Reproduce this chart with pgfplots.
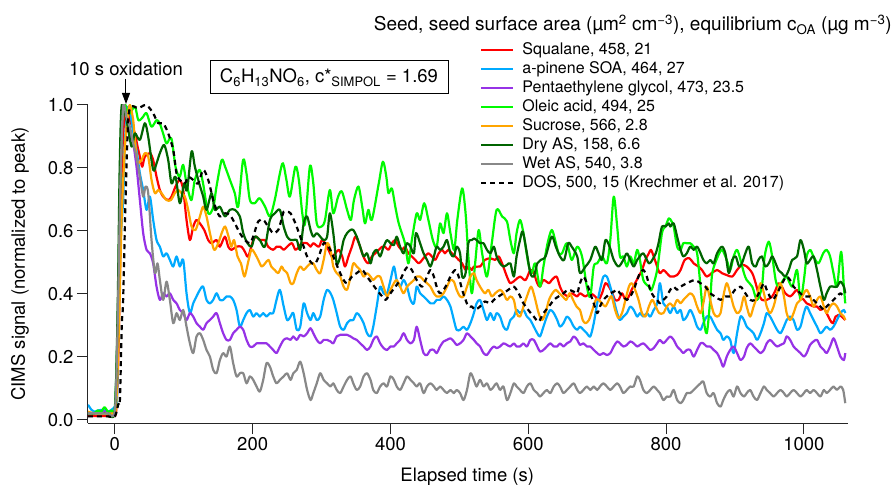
\documentclass[border=0pt]{standalone}
\usepackage{fontspec}
\setmainfont{TeX Gyre Heros}
\usepackage{pgfplots}
\pgfplotsset{compat=1.18}
\usetikzlibrary{arrows.meta}
\definecolor{cRed}{RGB}{255,0,0}
\definecolor{cBlue}{RGB}{0,170,255}
\definecolor{cPurple}{RGB}{150,50,230}
\definecolor{cLime}{RGB}{0,250,0}
\definecolor{cOrange}{RGB}{255,165,0}
\definecolor{cDark}{RGB}{0,100,0}
\definecolor{cGray}{RGB}{136,136,136}
\newcommand{\fs}[1]{\fontsize{#1}{#1}\selectfont}
\begin{document}
\begin{tikzpicture}
\begin{axis}[
  at={(0pt,0pt)}, anchor=south west,
  scale only axis, width=760pt, height=318pt,
  xmin=-39, xmax=1064, ymin=-0.01, ymax=1.0,
  axis x line*=bottom, axis y line*=left,
  axis line style={line width=1pt, black!85},
  tick align=outside, major tick length=11pt,
  tick style={line width=1pt, black!85},
  xtick={0,200,400,600,800,1000}, xticklabels={0,200,400,600,800,1000},
  ytick={0,0.2,0.4,0.6,0.8,1.0}, yticklabels={0.0,0.2,0.4,0.6,0.8,1.0},
  ticklabel style={font=\fs{18.5}},
  xlabel={Elapsed time (s)}, ylabel={CIMS signal (normalized to peak)},
  label style={font=\fs{18.5}},
  xlabel style={at={(axis description cs:0.499,-0.1846)}, anchor=base},
  ylabel style={at={(axis description cs:-0.0895,0.5)}, anchor=center},
  legend style={at={(axis description cs:0.5158,1.1965)}, anchor=north west,
    draw=none, fill=none, font=\fs{16}, inner sep=0pt, row sep=4pt,
    cells={anchor=west},
    nodes={inner sep=0pt, text height=11.5pt, text depth=3.5pt},
    /tikz/every odd column/.append style={column sep=8pt}},
  legend image code/.code={\draw[#1] (0pt,0pt) -- (32pt,0pt);},
  every axis plot/.append style={line width=2.2pt, line join=round, smooth, tension=0.5},
]
% Squalane
\addplot[cRed] coordinates {
(-39,0.012) (-30,0.012) (-20,0.012) (-10,0.012) (-2,0.012) (2,0.03) (5,0.2) (8,0.55) (11,0.85) (14,0.96) (17,0.995)
(21.8,0.952) (29,0.91) (32.9,0.868) (36.3,0.836) (39.7,0.804) (43.5,0.836) (50.8,0.847) (55.6,0.825) (60.5,0.772)
(65.3,0.73) (70.1,0.709) (77.4,0.698) (82.2,0.709) (88,0.741) (94.3,0.762) (99.2,0.73) (104,0.635) (108.9,0.571)
(113.7,0.614) (118.5,0.635) (123.4,0.624) (129.7,0.603) (135.5,0.571) (140.3,0.561) (147.6,0.571) (152.4,0.55)
(159.7,0.582) (164.5,0.55) (169.3,0.54) (176.6,0.55) (183.8,0.55) (188.7,0.534) (193.5,0.519) (200.8,0.571)
(205.6,0.582) (210.4,0.571) (217.7,0.571) (222.5,0.55) (229.8,0.54) (234.6,0.55) (240,0.55)
(245,0.540) (250,0.550) (257,0.561) (262,0.540) (267,0.550) (271,0.561) (279,0.561) (284,0.550) (288,0.561)
(296,0.550) (300.5,0.571) (305,0.561) (310,0.540) (315,0.519) (320,0.529) (325,0.540) (330,0.519) (334,0.487)
(339,0.519) (344,0.550) (349,0.582) (354,0.561) (359,0.529) (363,0.508) (368,0.497) (373,0.519) (378,0.529)
(383,0.540) (388,0.550) (392,0.550) (397,0.540) (402,0.561) (407,0.571) (412,0.550) (417,0.540) (421,0.550)
(426,0.529) (431,0.519) (436,0.508) (441,0.497) (446,0.508) (450,0.519) (455,0.529) (460,0.519) (465,0.508)
(470,0.529) (475,0.540) (479,0.529) (484,0.540) (489,0.529) (494,0.519) (499,0.508) (504,0.497) (509,0.476)
(513,0.487) (518,0.476)
(521,0.487) (530,0.487) (537,0.508) (545,0.513) (552,0.508) (557,0.519) (562,0.497) (569,0.455) (574,0.434)
(581,0.444) (588,0.455) (596,0.444) (603,0.476) (608,0.466) (613,0.434) (617,0.423) (622,0.444) (630,0.434)
(634,0.444) (641,0.455) (646,0.423) (651,0.402) (658,0.392) (663,0.402) (671,0.392) (675,0.402) (683,0.392)
(690,0.402) (697,0.392) (702,0.381) (707,0.402) (712,0.434) (717,0.423) (722,0.402) (726,0.381) (731,0.381)
(736,0.402) (741,0.381) (746,0.392) (750,0.413) (755,0.434) (760,0.455) (765,0.476) (770,0.508) (775,0.529)
(778,0.540) (782,0.519) (787,0.487) (791,0.466)
(796,0.476) (801,0.466) (806,0.455) (811,0.455) (816,0.460) (821,0.476) (827,0.508) (834,0.513) (840,0.497)
(847,0.487) (852,0.476) (859,0.455) (866,0.466) (874,0.476) (881,0.466) (888,0.460) (896,0.455) (903,0.476)
(910,0.492) (917,0.487) (925,0.466) (930,0.434) (934,0.402) (939,0.381) (946,0.381) (954,0.392) (959,0.413)
(963,0.434) (968,0.423) (973,0.402) (980,0.392) (985,0.402) (990,0.413) (995,0.392) (1000,0.381) (1004,0.370)
(1009,0.365) (1014,0.360) (1019,0.360) (1024,0.349) (1029,0.354) (1033,0.339) (1038,0.317) (1042,0.307)
(1046,0.328) (1050,0.333) (1055,0.328) (1060,0.317)
};
\addlegendentry{Squalane, 458, 21}
% a-pinene SOA
\addplot[cBlue] coordinates {
(-39,0.048) (-34,0.032) (-29,0.026) (-24,0.03) (-15,0.032) (-10,0.026) (-5,0.032) (0,0.042) (3,0.06) (5,0.275)
(8,0.55) (12,0.70) (15,0.9) (20,0.995)
(26.6,0.915) (31.4,0.857) (36.3,0.783) (41.1,0.730) (46,0.667) (50.8,0.709) (55.6,0.635) (60.5,0.571) (65.3,0.550)
(70.1,0.519) (75,0.529) (79.8,0.508) (84.7,0.487) (89.5,0.519) (94.3,0.487) (99.2,0.508) (104,0.402) (108.9,0.339)
(113.7,0.370) (118.5,0.392) (123.4,0.413) (128.2,0.423) (133,0.381) (137.9,0.370) (142.7,0.381) (147.6,0.402)
(152.4,0.381) (157.2,0.381) (162.1,0.392) (166.9,0.392) (171.7,0.381) (176.6,0.349) (181.4,0.296) (186.3,0.317)
(191.1,0.339) (195.9,0.349) (200.8,0.328) (205.6,0.339) (210.4,0.328) (215.3,0.339) (220.1,0.328) (225,0.339)
(229.8,0.339) (234.6,0.381) (239.5,0.413)
(245,0.360) (250,0.317) (255,0.328) (259,0.339) (264,0.286) (269,0.296) (274,0.370) (279,0.339) (284,0.317)
(288,0.339) (293,0.317) (298,0.328) (303,0.381) (308,0.413) (313,0.402) (317,0.381) (322,0.339) (327,0.296)
(332,0.286) (337,0.307) (342,0.317) (346,0.317) (351,0.339) (356,0.328) (361,0.307) (366,0.275) (371,0.265)
(375,0.296) (380,0.360) (385,0.423) (390,0.402) (395,0.402) (400,0.444) (405,0.487) (409,0.444) (414,0.423)
(419,0.444) (424,0.423) (429,0.381) (434,0.370) (438,0.423) (443,0.402) (448,0.392) (453,0.381) (458,0.370)
(463,0.370) (467,0.381) (472,0.381) (477,0.392) (482,0.381) (487,0.360) (492,0.317) (496,0.286) (501,0.286)
(506,0.296) (511,0.286) (516,0.307)
(521,0.339) (525,0.370) (530,0.381) (535,0.349) (540,0.317) (545,0.339) (550,0.317) (554,0.339) (559,0.328)
(564,0.296) (569,0.286) (574,0.317) (579,0.328) (583,0.349) (588,0.339) (593,0.349) (598,0.328) (603,0.317)
(608,0.296) (613,0.275) (617,0.265) (622,0.296) (627,0.328) (632,0.349) (637,0.339) (642,0.317) (646,0.296)
(651,0.307) (656,0.328) (661,0.317) (666,0.296) (671,0.286) (675,0.296) (680,0.286) (685,0.275) (690,0.265)
(695,0.307) (700,0.370) (704,0.413) (709,0.455) (714,0.455) (719,0.423) (724,0.381) (729,0.339) (733,0.317)
(738,0.328) (743,0.339) (748,0.360) (753,0.349) (758,0.328) (762,0.339) (767,0.328) (772,0.339) (777,0.328)
(782,0.349) (787,0.370) (791,0.434)
(796,0.370) (801,0.360) (806,0.339) (811,0.360) (816,0.339) (821,0.349) (825,0.317) (830,0.328) (835,0.349)
(840,0.328) (845,0.296) (850,0.286) (854,0.307) (859,0.328) (864,0.328) (869,0.307) (874,0.286) (879,0.275)
(883,0.254) (888,0.265) (893,0.254) (898,0.212) (903,0.275) (908,0.328) (913,0.317) (917,0.296) (922,0.286)
(927,0.275) (932,0.254) (937,0.275) (942,0.307) (946,0.339) (951,0.328) (956,0.307) (961,0.286) (966,0.275)
(971,0.296) (975,0.317) (980,0.328) (985,0.317) (990,0.286) (995,0.296) (1000,0.339) (1004,0.360) (1009,0.339)
(1014,0.317) (1019,0.296) (1024,0.275) (1029,0.286) (1033,0.296) (1038,0.286) (1043,0.296) (1048,0.317)
(1053,0.339) (1058,0.349) (1060,0.339)
};
\addlegendentry{a-pinene SOA, 464, 27}
% Pentaethylene glycol
\addplot[cPurple] coordinates {
(-39,0.021) (-30,0.021) (-20,0.026) (-10,0.026) (-5,0.021) (0,0.03) (4,0.3) (8,0.75) (12,1.0)
(16.9,0.952) (21.8,0.910) (26.6,0.878) (31.4,0.804) (36.3,0.698) (41.1,0.593) (46,0.540) (50.8,0.529) (55.6,0.497)
(60.5,0.423) (65.3,0.381) (70.1,0.402) (75,0.392) (79.8,0.402) (84.7,0.381) (89.5,0.370) (94.3,0.349) (99.2,0.339)
(104,0.317) (108.9,0.339) (113.7,0.328) (118.5,0.307) (123.4,0.296) (128.2,0.286) (133,0.307) (137.9,0.317)
(142.7,0.328) (147.6,0.339) (152.4,0.307) (157.2,0.275) (162.1,0.254) (166.9,0.254) (171.7,0.275) (176.6,0.286)
(181.4,0.296) (186.3,0.286) (191.1,0.254) (195.9,0.233) (200.8,0.233) (205.6,0.243) (210.4,0.243) (215.3,0.243)
(220.1,0.243) (225,0.233) (229.8,0.222) (234.6,0.212) (239.5,0.233)
(245,0.254) (250,0.259) (255,0.254) (259,0.265) (264,0.254) (269,0.270) (274,0.265) (279,0.275) (284,0.291)
(288,0.275) (293,0.254) (298,0.243) (303,0.254) (308,0.254) (313,0.249) (317,0.243) (322,0.265) (327,0.270)
(332,0.270) (337,0.270) (342,0.265) (346,0.259) (351,0.254) (356,0.243) (361,0.233) (366,0.222) (371,0.233)
(375,0.254) (380,0.265) (385,0.243) (390,0.228) (395,0.222) (400,0.233) (405,0.233) (409,0.243) (414,0.254)
(419,0.275) (424,0.254) (429,0.243) (434,0.254) (438,0.296) (443,0.254) (448,0.212) (453,0.206) (458,0.222)
(463,0.222) (467,0.212) (472,0.233) (477,0.249) (482,0.254) (487,0.259) (492,0.249) (496,0.238) (501,0.243)
(506,0.254) (511,0.275) (516,0.265)
(521,0.254) (525,0.243) (530,0.233) (535,0.212) (540,0.206) (545,0.222) (550,0.233) (554,0.228) (559,0.233)
(564,0.243) (569,0.238) (574,0.233) (579,0.243) (583,0.233) (588,0.233) (593,0.243) (598,0.233) (603,0.254)
(608,0.254) (613,0.233) (617,0.217) (622,0.222) (627,0.233) (632,0.243) (637,0.233) (642,0.233) (646,0.243)
(651,0.233) (656,0.243) (661,0.249) (666,0.265) (671,0.254) (675,0.238) (680,0.243) (685,0.233) (690,0.233)
(695,0.222) (700,0.212) (704,0.206) (709,0.212) (714,0.206) (719,0.212) (724,0.233) (729,0.249) (733,0.243)
(738,0.233) (743,0.238) (748,0.249) (753,0.243) (758,0.233) (762,0.238) (767,0.243) (772,0.233) (777,0.222)
(782,0.228) (787,0.243) (791,0.254)
(796,0.243) (801,0.254) (806,0.265) (811,0.254) (816,0.233) (821,0.222) (825,0.212) (830,0.222) (835,0.222)
(840,0.201) (845,0.222) (850,0.243) (854,0.243) (859,0.233) (864,0.233) (869,0.222) (874,0.212) (879,0.190)
(883,0.169) (888,0.201) (893,0.222) (898,0.233) (903,0.212) (908,0.190) (913,0.201) (917,0.228) (922,0.243)
(927,0.233) (932,0.222) (937,0.212) (942,0.222) (946,0.243) (951,0.254) (956,0.243) (961,0.233) (966,0.238)
(971,0.243) (975,0.265) (980,0.254) (985,0.233) (990,0.222) (995,0.212) (1000,0.201) (1004,0.212) (1009,0.238)
(1014,0.249) (1019,0.254) (1024,0.233) (1029,0.222) (1033,0.212) (1038,0.233) (1043,0.259) (1048,0.233)
(1053,0.201) (1058,0.190) (1060,0.212)
};
\addlegendentry{Pentaethylene glycol, 473, 23.5}
% Oleic acid
\addplot[cLime] coordinates {
(-39,0.021) (-30,0.021) (-25,0.03) (-20,0.026) (-15,0.04) (-10,0.026) (-5,0.03) (0,0.04) (4,0.3) (8,0.75) (12,1.0)
(20,0.97) (29,0.995) (34,0.952) (40,0.96) (46,0.974) (53,0.931) (60.5,0.952) (65,0.942) (70,0.91) (75,0.878)
(82,0.894) (88,0.804) (94,0.772) (99,0.81) (104,0.751) (111,0.698) (116,0.762) (123,0.794) (128,0.751)
(135.5,0.656) (143,0.677) (147.5,0.741) (155,0.825) (160,0.804) (167,0.762) (174,0.72) (179,0.677) (186,0.825)
(191,0.783) (196,0.698) (203,0.688) (210,0.704) (218,0.677) (225,0.646) (232,0.698) (239.5,0.783) (244,0.815)
(249,0.762) (254,0.709) (262,0.804) (267,0.762) (272,0.656) (276,0.624) (283,0.804) (288,0.751) (293,0.624)
(300,0.614) (305,0.635) (312,0.730) (317,0.656) (324,0.709) (329.5,0.725) (337,0.667) (342.5,0.635) (347,0.698)
(353.5,0.741) (359,0.677) (363,0.624) (368,0.667) (373,0.635) (383,0.751) (389,0.820) (394,0.772) (397,0.720)
(402,0.735) (407,0.677) (412,0.624) (421,0.561) (426,0.497) (431,0.571) (438,0.656) (443,0.635) (449,0.688)
(455,0.635) (461.5,0.571) (467,0.550) (472,0.624) (477,0.593) (482,0.656) (487,0.593) (492.5,0.540) (497,0.635)
(504,0.735) (509,0.656) (513,0.519) (518,0.402) (523,0.500)
(528,0.603) (533,0.529) (540,0.455) (547,0.561) (554,0.667) (562,0.646) (569,0.630) (574,0.571) (579,0.529)
(583,0.593) (588,0.635) (593,0.593) (600,0.497) (605,0.466) (610,0.497) (617,0.423) (622,0.487) (628,0.561)
(634,0.603) (639,0.571) (644,0.529) (649,0.529) (656,0.561) (663,0.508) (671,0.550) (678,0.519) (685,0.423)
(690,0.392) (695,0.487) (700,0.497) (707,0.519) (714,0.497) (719,0.571) (724,0.709) (729,0.614) (733,0.519)
(738,0.519) (743,0.487) (748,0.519) (753,0.497) (758,0.540) (762,0.508) (767,0.444) (775,0.423) (779,0.413)
(787,0.476) (794,0.593) (799,0.614) (804,0.640) (808,0.630) (811,0.614) (816,0.550) (821,0.540) (825,0.561)
(830,0.561) (835,0.561) (840,0.550) (845,0.529) (850,0.423) (854,0.328) (859,0.275) (864,0.381) (867,0.466)
(874,0.513) (881,0.540) (888,0.508) (893,0.476) (898,0.519) (903,0.540) (908,0.508) (913,0.466) (917,0.444)
(925,0.423) (932,0.381) (939,0.423) (943,0.519) (949,0.566) (954,0.519) (959,0.444) (963,0.423) (970,0.444)
(975,0.455) (983,0.423) (990,0.476) (995,0.381) (1000,0.444) (1004,0.519) (1009,0.540) (1014,0.519)
(1021,0.497) (1028,0.529) (1033,0.540) (1038,0.519) (1043,0.466) (1048,0.423) (1054,0.534) (1058,0.423)
(1060,0.370)
};
\addlegendentry{Oleic acid, 494, 25}
% Sucrose
\addplot[cOrange] coordinates {
(-39,0.026) (-30,0.021) (-20,0.021) (-10,0.021) (-2,0.021) (2,0.05) (6,0.3) (10,0.65) (15,0.88) (19,0.97) (22,1.0)
(26.6,0.952) (29,0.889) (32,0.83) (33.9,0.815) (38.7,0.825) (43.5,0.847) (48.4,0.836) (53.2,0.762) (58.1,0.720)
(62.9,0.730) (67.7,0.720) (75,0.698) (81.3,0.698) (87,0.720) (92,0.730) (96.8,0.720) (101.6,0.709) (106.4,0.667)
(111.3,0.614) (117.1,0.603) (123.4,0.646) (128.2,0.677) (133,0.646) (138,0.593) (144,0.540) (150,0.561)
(155,0.593) (160,0.614) (165,0.582) (169,0.550) (173,0.571) (178,0.519) (183,0.497) (188,0.455) (193,0.497)
(198,0.540) (203,0.529) (208,0.508) (213,0.487) (218,0.497) (223,0.508) (227,0.487) (232,0.476) (237,0.466)
(242,0.487)
(245,0.476) (250,0.466) (255,0.434) (259,0.434) (264,0.466) (269,0.487) (274,0.476) (279,0.487) (284,0.497)
(288,0.497) (293,0.476) (298,0.466) (303,0.508) (308,0.561) (313,0.540) (317,0.487) (322,0.466) (327,0.455)
(332,0.423) (337,0.413) (342,0.455) (346,0.497) (351,0.487) (356,0.476) (361,0.455) (366,0.466) (371,0.455)
(375,0.444) (380,0.455) (385,0.455) (390,0.423) (395,0.392) (400,0.413) (405,0.434) (409,0.444) (414,0.423)
(419,0.402) (424,0.423) (429,0.434) (434,0.444) (438,0.455) (443,0.455) (448,0.444) (453,0.434) (458,0.423)
(463,0.402) (467,0.392) (472,0.392) (477,0.402) (482,0.423) (487,0.444) (492,0.439) (496,0.413) (501,0.392)
(506,0.392) (511,0.423) (516,0.455)
(521,0.466) (525,0.444) (530,0.423) (537,0.402) (542,0.413) (547,0.392) (552,0.402) (559,0.413) (564,0.402)
(569,0.381) (574,0.392) (579,0.381) (583,0.339) (588,0.328) (593,0.360) (598,0.392) (604,0.423) (609,0.392)
(615,0.339) (620,0.317) (625,0.339) (630,0.381) (635,0.402) (640,0.413) (645,0.402) (650,0.392) (655,0.381)
(660,0.402) (665,0.381) (670,0.360) (675,0.349) (679,0.317) (683,0.307) (688,0.317) (693,0.349) (698,0.381)
(702,0.381) (707,0.370) (712,0.360) (717,0.381) (721,0.392) (726,0.349) (731,0.323) (736,0.339) (741,0.381)
(746,0.423) (750,0.434) (755,0.413) (760,0.381) (765,0.339) (770,0.328) (775,0.360) (780,0.381) (785,0.360)
(790,0.339)
(796,0.339) (801,0.360) (806,0.370) (811,0.360) (816,0.381) (821,0.370) (825,0.381) (830,0.392) (835,0.402)
(840,0.392) (845,0.360) (850,0.339) (854,0.370) (859,0.423) (864,0.381) (869,0.339) (874,0.328) (879,0.339)
(883,0.392) (888,0.434) (893,0.402) (898,0.360) (903,0.339) (908,0.349) (913,0.392) (917,0.360) (922,0.328)
(927,0.360) (932,0.392) (937,0.434) (942,0.402) (946,0.360) (951,0.339) (956,0.360) (961,0.402) (966,0.434)
(971,0.392) (975,0.339) (980,0.317) (985,0.339) (990,0.370) (995,0.381) (1000,0.402) (1004,0.413) (1009,0.392)
(1014,0.360) (1019,0.381) (1024,0.392) (1029,0.360) (1033,0.339) (1038,0.360) (1043,0.370) (1048,0.360)
(1053,0.339) (1058,0.328) (1060,0.317)
};
\addlegendentry{Sucrose, 566, 2.8}
% Dry AS
\addplot[cDark] coordinates {
(-39,0.021) (-30,0.021) (-20,0.021) (-10,0.021) (0,0.03) (4,0.35) (7,0.8) (10,1.0)
(16.9,0.952) (24.2,0.868) (29,0.910) (36.3,0.889) (43.5,0.942) (48.4,0.899) (55.6,0.794) (60.5,0.815) (65.3,0.847)
(71.6,0.873) (77.4,0.825) (82.2,0.751) (88,0.772) (94.3,0.688) (100.6,0.751) (104.8,0.730) (111.3,0.852)
(116.1,0.804) (122.4,0.751) (128.2,0.709) (133,0.667) (140.3,0.720) (145.1,0.667) (152.4,0.677) (159.7,0.646)
(166.9,0.667) (174.2,0.667) (181.4,0.646) (186.3,0.593) (192.5,0.561) (198.4,0.550) (203.2,0.582) (210.4,0.571)
(217.7,0.550) (225,0.635) (232.2,0.656) (239.5,0.667)
(245,0.614) (250,0.582) (255,0.571) (259,0.571) (264,0.571) (269,0.540) (274,0.624) (279,0.646) (284,0.603)
(288,0.582) (293,0.593) (298,0.582) (303,0.571) (308,0.582) (312,0.656) (317,0.593) (322,0.497) (327,0.519)
(332,0.571) (337,0.593) (342,0.603) (346,0.603) (351,0.582) (356,0.550) (361,0.519) (366,0.529) (371,0.497)
(375,0.529) (380,0.540) (385,0.519) (390,0.550) (395,0.571) (400,0.561) (405,0.555) (409,0.582) (414,0.550)
(419,0.529) (424,0.561) (429,0.550) (434,0.529) (437,0.593) (443,0.561) (448,0.529) (453,0.508) (458,0.487)
(463,0.519) (467,0.550) (472,0.540) (477,0.550) (482,0.571) (487,0.529) (492,0.519) (496,0.550) (501,0.529)
(504,0.455) (509,0.466) (513,0.561) (518,0.571) (521,0.576) (525,0.571)
(530,0.561) (535,0.561) (540,0.540) (545,0.529) (550,0.550) (554,0.519) (559,0.497) (564,0.487) (569,0.492)
(574,0.497) (579,0.455) (583,0.519) (588,0.571) (592,0.598) (598,0.529) (603,0.466) (608,0.455) (613,0.497)
(618,0.508) (625,0.519) (634,0.582) (640,0.550) (646,0.519) (652,0.508) (658,0.561) (663,0.550) (671,0.519)
(675,0.466) (683,0.487) (690,0.508) (697,0.550) (702,0.529) (707,0.508) (712,0.571) (718,0.550) (724,0.508)
(731,0.487) (738,0.508) (743,0.529) (748,0.508) (753,0.487) (758,0.508) (762,0.519) (767,0.529) (775,0.497)
(780,0.508) (785,0.529) (789,0.561) (794,0.614) (799,0.614) (804,0.624)
(806,0.614) (811,0.624) (816,0.582) (821,0.540) (825,0.519) (830,0.529) (835,0.550) (840,0.540) (845,0.550)
(850,0.529) (854,0.508) (859,0.497) (864,0.508) (869,0.497) (874,0.529) (881,0.550) (886,0.529) (891,0.466)
(896,0.508) (901,0.519) (906,0.487) (910,0.497) (915,0.529) (920,0.550) (925,0.497) (930,0.487) (934,0.508)
(939,0.519) (944,0.487) (949,0.497) (954,0.519) (959,0.497) (963,0.476) (968,0.466) (973,0.455) (978,0.476)
(983,0.508) (990,0.519) (995,0.571) (1000,0.540) (1004,0.497) (1009,0.508) (1014,0.519) (1019,0.476)
(1024,0.423) (1029,0.381) (1033,0.402) (1038,0.423) (1043,0.423) (1048,0.423) (1053,0.439) (1058,0.423)
(1060,0.402)
};
\addlegendentry{Dry AS, 158, 6.6}
% Wet AS
\addplot[cGray] coordinates {
(-39,0.021) (-30,0.021) (-20,0.021) (-10,0.021) (0,0.03) (4,0.3) (8,0.75) (12,0.995)
(16.9,0.96) (21.8,0.931) (26.6,0.878) (31.4,0.836) (36.3,0.772) (41.1,0.709) (44.5,0.741) (48.4,0.720) (53.2,0.571)
(58.1,0.466) (61.9,0.497) (65.3,0.444) (70.1,0.381) (75,0.439) (79.8,0.381) (84.7,0.307) (89.5,0.339) (94.3,0.317)
(99.2,0.349) (104,0.296) (108.9,0.243) (113.7,0.212) (118.5,0.265) (123.4,0.275) (128.2,0.254) (133,0.222)
(137.9,0.201) (142.7,0.159) (147.6,0.148) (152.4,0.190) (157.2,0.212) (162.1,0.201) (166.9,0.233) (171.7,0.180)
(176.6,0.138) (181.4,0.148) (186.3,0.148) (191.1,0.116) (195.9,0.138) (200.8,0.127) (205.6,0.106) (210.4,0.090)
(215.3,0.127) (220.1,0.180) (225,0.169) (229.8,0.138) (234.6,0.116) (239.5,0.127)
(245,0.138) (250,0.148) (255,0.127) (259,0.148) (264,0.159) (269,0.185) (274,0.148) (279,0.095) (284,0.063)
(288,0.085) (293,0.116) (298,0.148) (303,0.127) (308,0.116) (313,0.106) (317,0.116) (322,0.095) (327,0.085)
(332,0.106) (337,0.127) (342,0.138) (346,0.116) (351,0.095) (356,0.106) (361,0.138) (366,0.148) (371,0.127)
(375,0.095) (380,0.085) (385,0.106) (390,0.116) (395,0.106) (400,0.138) (405,0.127) (409,0.106) (414,0.095)
(419,0.116) (424,0.138) (429,0.127) (434,0.116) (438,0.106) (443,0.116) (448,0.085) (453,0.106) (458,0.116)
(463,0.106) (467,0.095) (472,0.106) (477,0.095) (482,0.085) (487,0.095) (492,0.085) (496,0.095) (501,0.085)
(506,0.063) (511,0.095) (516,0.148)
(521,0.127) (525,0.106) (530,0.127) (535,0.106) (540,0.116) (545,0.095) (550,0.106) (554,0.116) (559,0.095)
(564,0.106) (569,0.063) (574,0.085) (579,0.116) (583,0.106) (588,0.095) (593,0.085) (598,0.106) (603,0.116)
(608,0.095) (613,0.085) (617,0.074) (622,0.085) (627,0.095) (632,0.085) (637,0.106) (642,0.116) (646,0.106)
(651,0.085) (656,0.095) (661,0.106) (666,0.116) (671,0.095) (675,0.085) (680,0.095) (685,0.106) (690,0.095)
(695,0.106) (700,0.095) (704,0.106) (709,0.116) (714,0.106) (719,0.095) (724,0.106) (729,0.116) (733,0.106)
(738,0.085) (743,0.095) (748,0.106) (753,0.106) (758,0.138) (762,0.127) (767,0.095) (772,0.085) (777,0.095)
(782,0.106) (787,0.095) (791,0.085) (796,0.063) (801,0.074)
(806,0.074) (811,0.095) (816,0.063) (821,0.053) (825,0.063) (830,0.085) (835,0.085) (840,0.095) (845,0.106)
(850,0.116) (854,0.122) (859,0.085) (864,0.074) (869,0.085) (874,0.053) (879,0.042) (883,0.063) (888,0.085)
(893,0.095) (898,0.074) (903,0.106) (908,0.085) (913,0.074) (917,0.085) (922,0.095) (927,0.074) (932,0.063)
(937,0.085) (942,0.106) (946,0.095) (951,0.085) (956,0.074) (961,0.085) (966,0.095) (971,0.085) (975,0.074)
(980,0.085) (985,0.095) (990,0.085) (995,0.074) (1000,0.085) (1004,0.095) (1009,0.085) (1014,0.095)
(1019,0.085) (1024,0.074) (1029,0.095) (1033,0.085) (1038,0.095) (1043,0.106) (1048,0.095) (1053,0.106)
(1057,0.095) (1060,0.053)
};
\addlegendentry{Wet AS, 540, 3.8}
% DOS
\addplot[black, dash pattern=on 5pt off 4pt] coordinates {
(-39,0.011) (-30,0.011) (-20,0.011) (-10,0.011) (0,0.011) (5,0.05) (7.3,0.063) (10,0.3) (12,0.38) (15.5,0.698)
(19.4,0.952) (24.2,0.995)
(33.9,0.99) (43.5,1.0) (48.4,0.995) (55.6,0.974) (62.9,0.942) (70.1,0.942) (77.4,0.910) (84.7,0.857) (89.5,0.783)
(94.3,0.762) (101.6,0.751) (106.4,0.772) (113.7,0.762) (121,0.751) (128.2,0.794) (135.5,0.762) (142.7,0.698)
(147.6,0.667) (152.4,0.646) (159.7,0.656) (166.9,0.651) (174.2,0.624) (181.4,0.593) (188.7,0.571) (195.9,0.561)
(200.8,0.582) (208,0.630) (215.3,0.635) (222.5,0.614) (229.8,0.593) (237.1,0.603) (241,0.630)
(245,0.661) (250,0.661) (255,0.656) (262,0.624) (269,0.582) (274,0.550) (279,0.519) (286,0.497) (291,0.497)
(296,0.519) (303,0.561) (310,0.550) (317,0.519) (325,0.476) (332,0.444) (337,0.434) (344,0.455) (351,0.466)
(359,0.476) (366,0.455) (373,0.434) (380,0.413) (388,0.392) (393,0.381) (400,0.402) (407,0.423) (414,0.444)
(421,0.476) (426,0.487) (431,0.476) (438,0.444) (446,0.423) (453,0.455) (458,0.476) (463,0.455) (467,0.423)
(472,0.402) (480,0.423) (487,0.455) (494,0.476) (499,0.455) (504,0.413) (509,0.381) (513,0.360)
(518,0.360) (523,0.350) (530,0.360) (537,0.376) (545,0.370) (550,0.381) (557,0.392) (564,0.402) (571,0.413)
(579,0.423) (586,0.402) (593,0.370) (600,0.349) (608,0.328) (615,0.312) (622,0.339) (630,0.360) (637,0.381)
(644,0.392) (651,0.402) (658,0.413) (666,0.407) (671,0.402) (675,0.434) (680,0.455) (685,0.434) (690,0.402)
(695,0.370) (700,0.339) (704,0.360) (709,0.381) (714,0.392) (719,0.402) (724,0.407) (729,0.413) (733,0.402)
(738,0.392) (743,0.381) (748,0.392) (753,0.413) (758,0.444) (762,0.466) (767,0.476) (772,0.455) (777,0.413)
(782,0.392) (787,0.381) (791,0.370) (796,0.381)
(801,0.392) (806,0.413) (811,0.423) (816,0.413) (821,0.423) (830,0.434) (835,0.439) (842,0.444) (850,0.434)
(857,0.423) (864,0.402) (871,0.392) (879,0.381) (886,0.392) (893,0.392) (900,0.413) (908,0.423) (915,0.402)
(922,0.381) (929,0.381) (937,0.413) (942,0.434) (946,0.413) (954,0.381) (961,0.402) (966,0.423) (971,0.444)
(975,0.455) (980,0.444) (985,0.423) (990,0.413) (995,0.402) (1000,0.392) (1009,0.392) (1014,0.381) (1019,0.370)
(1024,0.360) (1029,0.349) (1033,0.360) (1038,0.370) (1043,0.381) (1048,0.392) (1053,0.402) (1058,0.392)
};
\addlegendentry{DOS, 500, 15 (Krechmer et al. 2017)}
\end{axis}
\draw[line width=1pt] (122pt,329pt) rectangle (360pt,362pt);
\node[font=\fs{18.5}, anchor=base, inner sep=0pt] at (241pt,340pt) {C\textsubscript{6}H\textsubscript{13}NO\textsubscript{6}, c*\textsubscript{SIMPOL} = 1.69};
\node[font=\fs{18.5}, anchor=base, inner sep=0pt] at (38pt,347pt) {10 s oxidation};
\draw[line width=1pt, -{Triangle[length=11pt,width=8pt]}] (38pt,344pt) -- (38pt,319pt);
\node[font=\fs{19}, anchor=base east, inner sep=0pt] at (804pt,392.3pt) {Seed, seed surface area (µm\textsuperscript{2} cm\textsuperscript{−3}), equilibrium c\textsubscript{OA} (µg m\textsuperscript{−3})};
\pgfresetboundingbox
\path[use as bounding box] (-88pt,-62pt) rectangle (807pt,423pt);
\end{tikzpicture}
\end{document}
